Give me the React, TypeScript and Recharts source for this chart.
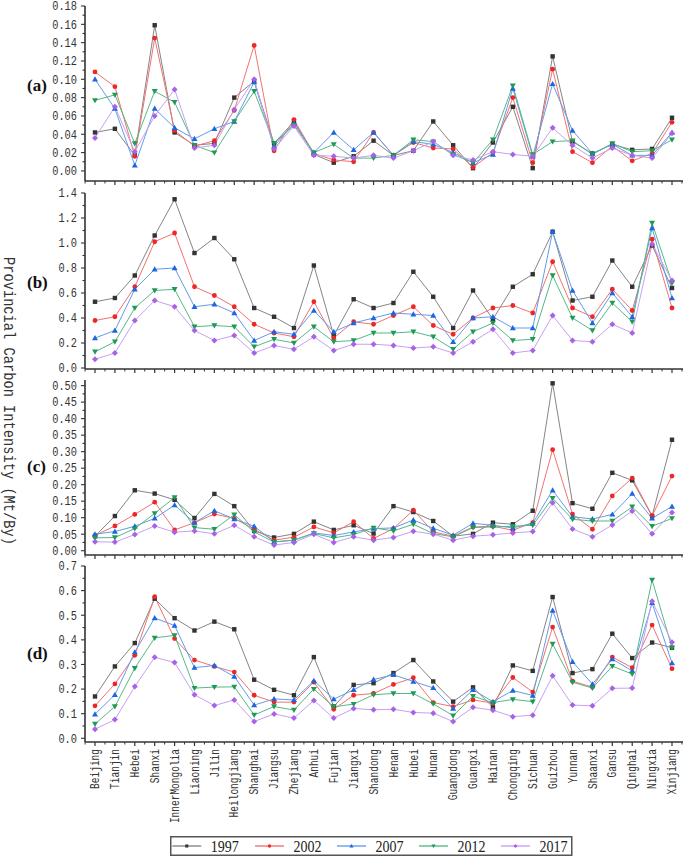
import React from "react";
import { LineChart, Line, XAxis, YAxis } from "recharts";

const provinces = [
  "Beijing", "Tianjin", "Hebei", "Shanxi", "InnerMongolia", "Liaoning", "Jilin",
  "Heilongjiang", "Shanghai", "Jiangsu", "Zhejiang", "Anhui", "Fujian", "Jiangxi",
  "Shandong", "Henan", "Hubei", "Hunan", "Guangdong", "Guangxi", "Hainan",
  "Chongqing", "Sichuan", "Guizhou", "Yunnan", "Shaanxi", "Gansu", "Qinghai",
  "Ningxia", "Xinjiang",
];

// panel (a)
const a1997 = [0.042, 0.046, 0.017, 0.159, 0.042, 0.028, 0.030, 0.080, 0.098, 0.030, 0.054, 0.018, 0.009, 0.016, 0.033, 0.017, 0.022, 0.054, 0.028, 0.003, 0.031, 0.070, 0.003, 0.125, 0.032, 0.019, 0.029, 0.023, 0.024, 0.058];
const a2002 = [0.108, 0.092, 0.016, 0.145, 0.044, 0.027, 0.033, 0.066, 0.137, 0.022, 0.056, 0.019, 0.012, 0.010, 0.042, 0.017, 0.031, 0.025, 0.024, 0.004, 0.020, 0.080, 0.009, 0.111, 0.021, 0.009, 0.027, 0.011, 0.019, 0.053];
const a2007 = [0.100, 0.068, 0.006, 0.068, 0.047, 0.035, 0.046, 0.054, 0.097, 0.027, 0.052, 0.020, 0.042, 0.023, 0.042, 0.017, 0.032, 0.029, 0.020, 0.009, 0.018, 0.090, 0.016, 0.095, 0.044, 0.019, 0.029, 0.017, 0.017, 0.042];
const a2012 = [0.077, 0.083, 0.030, 0.087, 0.075, 0.028, 0.020, 0.054, 0.087, 0.030, 0.050, 0.020, 0.029, 0.014, 0.014, 0.017, 0.034, 0.032, 0.018, 0.009, 0.034, 0.093, 0.018, 0.032, 0.033, 0.018, 0.030, 0.021, 0.022, 0.034];
const a2017 = [0.036, 0.070, 0.021, 0.060, 0.089, 0.025, 0.028, 0.067, 0.100, 0.024, 0.049, 0.017, 0.016, 0.014, 0.017, 0.014, 0.022, 0.032, 0.017, 0.012, 0.021, 0.018, 0.016, 0.047, 0.028, 0.014, 0.025, 0.017, 0.014, 0.041];

// panel (b)
const b1997 = [0.53, 0.56, 0.74, 1.06, 1.35, 0.92, 1.04, 0.87, 0.48, 0.41, 0.32, 0.82, 0.26, 0.55, 0.48, 0.52, 0.77, 0.57, 0.32, 0.62, 0.39, 0.65, 0.75, 1.09, 0.54, 0.57, 0.86, 0.65, 0.98, 0.64];
const b2002 = [0.38, 0.41, 0.65, 1.01, 1.08, 0.65, 0.58, 0.49, 0.35, 0.28, 0.25, 0.53, 0.24, 0.37, 0.35, 0.42, 0.49, 0.34, 0.27, 0.40, 0.48, 0.50, 0.44, 0.85, 0.48, 0.41, 0.63, 0.46, 1.03, 0.48];
const b2007 = [0.24, 0.30, 0.63, 0.79, 0.80, 0.49, 0.51, 0.44, 0.22, 0.29, 0.27, 0.46, 0.29, 0.36, 0.40, 0.44, 0.43, 0.42, 0.21, 0.40, 0.41, 0.32, 0.32, 1.09, 0.62, 0.36, 0.60, 0.41, 1.12, 0.56];
const b2012 = [0.13, 0.21, 0.48, 0.62, 0.63, 0.33, 0.34, 0.33, 0.17, 0.23, 0.20, 0.33, 0.21, 0.22, 0.28, 0.28, 0.29, 0.25, 0.15, 0.29, 0.36, 0.22, 0.23, 0.74, 0.40, 0.30, 0.52, 0.37, 1.16, 0.68];
const b2017 = [0.07, 0.12, 0.38, 0.54, 0.49, 0.30, 0.22, 0.26, 0.12, 0.18, 0.15, 0.25, 0.14, 0.19, 0.19, 0.18, 0.16, 0.17, 0.12, 0.21, 0.31, 0.12, 0.14, 0.42, 0.22, 0.21, 0.35, 0.28, 0.99, 0.70];

// panel (c)
const c1997 = [0.044, 0.105, 0.183, 0.173, 0.154, 0.099, 0.172, 0.135, 0.060, 0.040, 0.051, 0.088, 0.063, 0.077, 0.052, 0.135, 0.117, 0.090, 0.044, 0.051, 0.085, 0.080, 0.121, 0.507, 0.144, 0.127, 0.236, 0.213, 0.105, 0.336];
const c2002 = [0.046, 0.075, 0.110, 0.147, 0.063, 0.085, 0.111, 0.098, 0.065, 0.032, 0.041, 0.072, 0.054, 0.088, 0.037, 0.067, 0.123, 0.057, 0.044, 0.072, 0.074, 0.062, 0.085, 0.306, 0.111, 0.065, 0.166, 0.220, 0.106, 0.226];
const c2007 = [0.050, 0.058, 0.074, 0.098, 0.138, 0.085, 0.121, 0.096, 0.074, 0.027, 0.032, 0.054, 0.046, 0.057, 0.067, 0.069, 0.093, 0.068, 0.047, 0.083, 0.077, 0.069, 0.083, 0.183, 0.103, 0.096, 0.110, 0.173, 0.098, 0.134];
const c2012 = [0.039, 0.040, 0.067, 0.113, 0.161, 0.070, 0.065, 0.109, 0.057, 0.026, 0.032, 0.052, 0.039, 0.049, 0.069, 0.060, 0.080, 0.052, 0.042, 0.070, 0.072, 0.074, 0.077, 0.159, 0.095, 0.090, 0.090, 0.133, 0.074, 0.098];
const c2017 = [0.027, 0.026, 0.049, 0.075, 0.056, 0.060, 0.051, 0.077, 0.042, 0.017, 0.025, 0.050, 0.025, 0.042, 0.032, 0.040, 0.059, 0.050, 0.032, 0.044, 0.048, 0.054, 0.058, 0.145, 0.066, 0.042, 0.078, 0.120, 0.051, 0.116];

// panel (d)
const d1997 = [0.170, 0.292, 0.387, 0.567, 0.488, 0.438, 0.474, 0.443, 0.238, 0.197, 0.175, 0.330, 0.129, 0.217, 0.224, 0.265, 0.318, 0.231, 0.149, 0.207, 0.126, 0.296, 0.274, 0.574, 0.265, 0.281, 0.425, 0.326, 0.389, 0.368];
const d2002 = [0.132, 0.221, 0.337, 0.575, 0.405, 0.318, 0.292, 0.269, 0.175, 0.147, 0.147, 0.228, 0.118, 0.175, 0.182, 0.219, 0.246, 0.145, 0.129, 0.156, 0.143, 0.247, 0.188, 0.452, 0.232, 0.208, 0.330, 0.287, 0.460, 0.283];
const d2007 = [0.098, 0.177, 0.350, 0.489, 0.458, 0.287, 0.296, 0.251, 0.135, 0.160, 0.156, 0.234, 0.159, 0.197, 0.239, 0.258, 0.231, 0.205, 0.121, 0.197, 0.149, 0.194, 0.174, 0.519, 0.311, 0.220, 0.322, 0.274, 0.550, 0.306];
const d2012 = [0.058, 0.129, 0.285, 0.408, 0.418, 0.204, 0.208, 0.209, 0.095, 0.129, 0.115, 0.200, 0.128, 0.139, 0.177, 0.182, 0.182, 0.140, 0.092, 0.171, 0.145, 0.158, 0.149, 0.383, 0.228, 0.204, 0.293, 0.261, 0.643, 0.368];
const d2017 = [0.037, 0.076, 0.210, 0.329, 0.308, 0.177, 0.133, 0.156, 0.068, 0.099, 0.082, 0.154, 0.082, 0.121, 0.116, 0.118, 0.105, 0.102, 0.068, 0.126, 0.114, 0.088, 0.094, 0.254, 0.135, 0.132, 0.203, 0.204, 0.557, 0.390];

const aTickLabels = ["0.00", "0.02", "0.04", "0.06", "0.08", "0.10", "0.12", "0.14", "0.16", "0.18"];
const bTickLabels = ["0.0", "0.2", "0.4", "0.6", "0.8", "1.0", "1.2", "1.4"];
const cTickLabels = ["0.00", "0.05", "0.10", "0.15", "0.20", "0.25", "0.30", "0.35", "0.40", "0.45", "0.50"];
const dTickLabels = ["0.0", "0.1", "0.2", "0.3", "0.4", "0.5", "0.6", "0.7"];

const SERIES = [
  { key: "y1997", name: "1997", line: "#858585", mark: "#333333", shape: "square" },
  { key: "y2002", name: "2002", line: "#f27272", mark: "#ee2626", shape: "circle" },
  { key: "y2007", name: "2007", line: "#629de8", mark: "#1d66e0", shape: "up" },
  { key: "y2012", name: "2012", line: "#55b987", mark: "#1f9a55", shape: "down" },
  { key: "y2017", name: "2017", line: "#c8a0f2", mark: "#a862e6", shape: "diamond" },
];

const MONO = "'Liberation Mono', 'DejaVu Sans Mono', monospace";
const SERIF = "'Liberation Serif', 'DejaVu Serif', serif";
const STEP = 19.9;

// major ticks + halfway minor ticks
function withMinor(labels: string[]) {
  const major = labels.map(Number);
  const out: number[] = [];
  major.forEach((v, i) => {
    out.push(v);
    if (i < major.length - 1) out.push(Number(((v + major[i + 1]) / 2).toFixed(4)));
  });
  return out;
}

const PANELS = [
  { label: "(a)", top: 6, plotH: 175, domain: [-0.011, 0.18], labels: aTickLabels, values: [a1997, a2002, a2007, a2012, a2017], names: false },
  { label: "(b)", top: 193, plotH: 176, domain: [-0.008, 1.4], labels: bTickLabels, values: [b1997, b2002, b2007, b2012, b2017], names: false },
  { label: "(c)", top: 380, plotH: 175, domain: [-0.013, 0.517], labels: cTickLabels, values: [c1997, c2002, c2007, c2012, c2017], names: false },
  { label: "(d)", top: 566, plotH: 176, domain: [-0.015, 0.7], labels: dTickLabels, values: [d1997, d2002, d2007, d2012, d2017], names: true },
];

function Marker({ cx, cy, shape, fill, s = 1 }: any) {
  if (cx == null || cy == null) return null;
  if (shape === "square") return <rect x={cx - 2.2 * s} y={cy - 2.2 * s} width={4.4 * s} height={4.4 * s} fill={fill} />;
  if (shape === "circle") return <circle cx={cx} cy={cy} r={2.4 * s} fill={fill} />;
  let d = "";
  if (shape === "up") d = `M${cx},${cy - 3 * s} L${cx + 3 * s},${cy + 2.2 * s} L${cx - 3 * s},${cy + 2.2 * s} Z`;
  if (shape === "down") d = `M${cx},${cy + 3 * s} L${cx + 3 * s},${cy - 2.2 * s} L${cx - 3 * s},${cy - 2.2 * s} Z`;
  if (shape === "diamond") d = `M${cx},${cy - 3 * s} L${cx + 3 * s},${cy} L${cx},${cy + 3 * s} L${cx - 3 * s},${cy} Z`;
  return <path d={d} fill={fill} />;
}

function XTick({ x, y, index, payload, showNames }: any) {
  return (
    <g>
      <line x1={x} x2={x} y1={y} y2={y + 4} stroke="#333" strokeWidth={1.2} />
      {index === 0 && <line x1={x - STEP / 2} x2={x - STEP / 2} y1={y} y2={y + 2.5} stroke="#333" strokeWidth={1} />}
      <line x1={x + STEP / 2} x2={x + STEP / 2} y1={y} y2={y + 2.5} stroke="#333" strokeWidth={1} />
      {showNames && (
        <text
          x={x}
          y={y + 7}
          transform={`rotate(-90, ${x}, ${y + 7})`}
          textAnchor="end"
          dy="0.35em"
          fontFamily={MONO}
          fontSize={12}
          fill="#333"
          textLength={payload.value.length * 5.7}
          lengthAdjust="spacingAndGlyphs"
        >
          {payload.value}
        </text>
      )}
    </g>
  );
}

function YTick({ x, y, payload, labels }: any) {
  const lab = labels.find((l: string) => Math.abs(Number(l) - payload.value) < 1e-9);
  return (
    <g>
      <line x1={x - (lab ? 4 : 2.5)} x2={x} y1={y} y2={y} stroke="#333" strokeWidth={1.1} />
      {lab && (
        <text
          x={x - 8}
          y={y}
          dy="0.36em"
          textAnchor="end"
          fontFamily={MONO}
          fontSize={12}
          fill="#333"
          textLength={lab.length * 6.2}
          lengthAdjust="spacingAndGlyphs"
        >
          {lab}
        </text>
      )}
    </g>
  );
}

function Panel({ cfg }: any) {
  const rows = provinces.map((name, i) => ({
    name,
    y1997: cfg.values[0][i],
    y2002: cfg.values[1][i],
    y2007: cfg.values[2][i],
    y2012: cfg.values[3][i],
    y2017: cfg.values[4][i],
  }));
  const axisH = cfg.names ? 100 : 8;
  return (
    <div style={{ position: "absolute", left: 0, top: cfg.top - 6 }}>
      <LineChart width={685} height={6 + cfg.plotH + axisH} data={rows} margin={{ top: 6, right: 2, bottom: 0, left: 0 }}>
        <XAxis
          dataKey="name"
          type="category"
          interval={0}
          padding={{ left: 10, right: 11 }}
          height={axisH}
          tickLine={false}
          tickSize={0}
          tickMargin={0}
          axisLine={{ stroke: "#333", strokeWidth: 1.6 }}
          tick={(p: any) => <XTick {...p} showNames={cfg.names} />}
        />
        <YAxis
          type="number"
          width={85}
          domain={cfg.domain}
          ticks={withMinor(cfg.labels)}
          interval={0}
          tickLine={false}
          tickSize={0}
          tickMargin={0}
          axisLine={{ stroke: "#333", strokeWidth: 1.6 }}
          tick={(p: any) => <YTick {...p} labels={cfg.labels} />}
        />
        {SERIES.map((s) => (
          <Line
            key={s.key}
            type="linear"
            dataKey={s.key}
            stroke={s.line}
            strokeWidth={1}
            isAnimationActive={false}
            dot={(p: any) => <Marker key={`${s.key}-${p.index}`} cx={p.cx} cy={p.cy} shape={s.shape} fill={s.mark} />}
            activeDot={false}
          />
        ))}
      </LineChart>
    </div>
  );
}

function LegendBox() {
  const lineX = [2.3, 85, 167, 249, 331];
  return (
    <svg width={440} height={21} style={{ position: "absolute", left: 170, top: 836 }}>
      <rect x={0.75} y={0.75} width={401} height={18.5} fill="#fff" stroke="#555" strokeWidth={1.5} />
      {SERIES.map((s, i) => (
        <g key={s.key}>
          <line x1={lineX[i]} x2={lineX[i] + 29} y1={10} y2={10} stroke={s.line} strokeWidth={1.6} opacity={0.85} />
          <Marker cx={lineX[i] + 14.5} cy={10} shape={s.shape} fill={s.mark} s={0.7} />
          <text
            x={lineX[i] + 38.5}
            y={15.5}
            fontFamily={SERIF}
            fontSize={16}
            fill="#222"
            textLength={28}
            lengthAdjust="spacingAndGlyphs"
          >
            {s.name}
          </text>
        </g>
      ))}
    </svg>
  );
}

export default function App() {
  const labelY = [91, 288, 472, 659];
  return (
    <div style={{ position: "absolute", left: 0, top: 0, width: 685, height: 858, background: "#fff", overflow: "hidden" }}>
      {PANELS.map((cfg) => (
        <Panel key={cfg.label} cfg={cfg} />
      ))}
      <svg width={685} height={858} style={{ position: "absolute", left: 0, top: 0, pointerEvents: "none" }}>
        {PANELS.map((cfg, i) => (
          <text key={cfg.label} x={27} y={labelY[i]} fontFamily={SERIF} fontWeight="bold" fontSize={17} fill="#111">
            {cfg.label}
          </text>
        ))}
        <text
          x={10}
          y={401}
          transform="rotate(90, 10, 401)"
          textAnchor="middle"
          dy="0.35em"
          fontFamily={MONO}
          fontSize={16}
          fill="#333"
          textLength={288}
          lengthAdjust="spacingAndGlyphs"
        >
          Provincial Carbon Intensity (Mt/By)
        </text>
      </svg>
      <LegendBox />
    </div>
  );
}
